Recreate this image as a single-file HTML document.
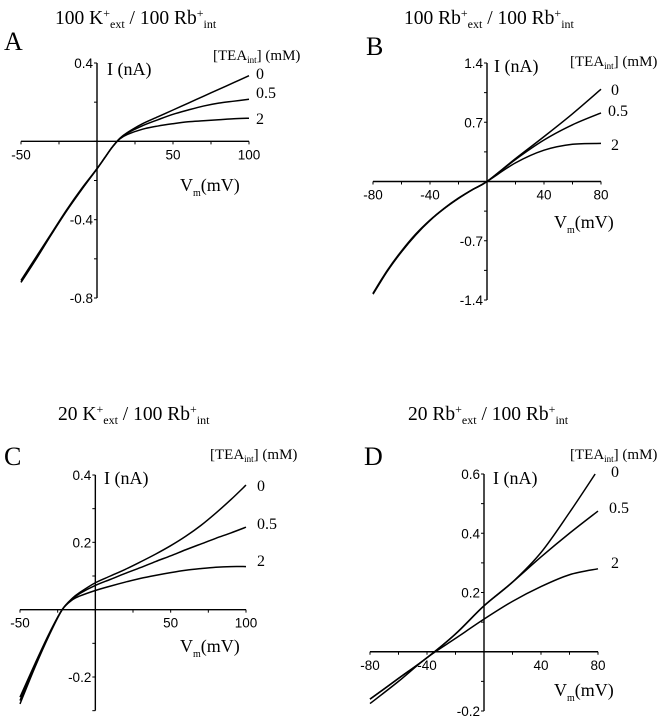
<!DOCTYPE html>
<html><head><meta charset="utf-8"><style>
body{margin:0;background:#fff}
svg{display:block}
.t{font-family:"Liberation Serif",serif;fill:#000}
.k{font-family:"Liberation Sans",sans-serif;font-size:13.5px;fill:#000}
</style></head><body>
<svg id="fig" width="659" height="719" viewBox="0 0 659 719"></svg>
<script>
// Panel A data
const aV=[-50,-40,-30,-20,-10,0,5,10,15,20,30,40,50,60,70,80,90,100];
const aI0=[-0.72,-0.6,-0.475,-0.355,-0.245,-0.14,-0.085,-0.03,0.015,0.045,0.09,0.125,0.16,0.195,0.23,0.265,0.30,0.335];
const aI05=[-0.72,-0.6,-0.475,-0.355,-0.245,-0.14,-0.085,-0.03,0.015,0.042,0.08,0.11,0.138,0.16,0.18,0.195,0.205,0.215];
const aI2=[-0.71,-0.59,-0.47,-0.35,-0.24,-0.14,-0.085,-0.03,0.012,0.035,0.062,0.078,0.09,0.1,0.105,0.11,0.115,0.118];
// Panel B data
const bV=[-80,-70,-60,-50,-40,-30,-20,-10,0,20,40,60,80];
const bI0=[-1.33,-1.06,-0.83,-0.63,-0.46,-0.32,-0.2,-0.095,0,0.27,0.53,0.8,1.09];
const bI05=[-1.33,-1.06,-0.83,-0.63,-0.46,-0.32,-0.2,-0.095,0,0.26,0.49,0.67,0.81];
const bI2=[-1.32,-1.05,-0.82,-0.62,-0.455,-0.315,-0.195,-0.093,0,0.22,0.37,0.44,0.45];
// Panel C data
const cV=[-50,-40,-30,-22,-15,-10,0,10,20,30,40,50,60,70,80,90,100];
const cI0=[-0.28,-0.17,-0.07,0,0.035,0.052,0.08,0.1,0.12,0.142,0.165,0.19,0.218,0.25,0.287,0.327,0.37];
const cI05=[-0.27,-0.165,-0.068,0,0.033,0.049,0.072,0.09,0.108,0.125,0.143,0.16,0.178,0.195,0.212,0.228,0.245];
const cI2=[-0.26,-0.16,-0.065,0,0.03,0.041,0.057,0.07,0.082,0.093,0.102,0.11,0.117,0.122,0.126,0.128,0.128];
// Panel D data
const dV0=[-80,-60,-40,-20,0,20,40,60,78];
const dI0=[-0.16,-0.09,-0.02,0.06,0.155,0.235,0.335,0.47,0.6];
const dV=[-80,-60,-40,-20,0,20,40,60,80];
const dI05=[-0.16,-0.09,-0.02,0.06,0.155,0.235,0.32,0.40,0.475];
const dI2=[-0.175,-0.1,-0.02,0.045,0.11,0.17,0.22,0.26,0.28];
const aXTicks=[-50,50,100], bXTicks=[-80,-40,40,80], cXTicks=[-50,50,100], dXTicks=[-80,-40,40,80];
const aYTicks=["0.4","-0.4","-0.8"], bYTicks=["1.4","0.7","-0.7","-1.4"], cYTicks=["0.4","0.2","-0.2"], dYTicks=["0.6","0.4","0.2","-0.2"];

const NS="http://www.w3.org/2000/svg";
const svg=document.getElementById('fig');
function mk(tag,attrs,parent){const e=document.createElementNS(NS,tag);for(const k in attrs)e.setAttribute(k,attrs[k]);(parent||svg).appendChild(e);return e;}

const panels=[
 {id:'a',x0:-50,x1:100,px0:21,px1:249,y0:-0.8,y1:0.4,py0:298,py1:63,xMinor:25,yMinor:0.2,yMax:0.4,yMin:-0.8,
  series:[[aV,aI0,'0'],[aV,aI05,'0.5'],[aV,aI2,'2']],xt:aXTicks,yt:aYTicks,
  title:['100 K','ext','100 Rb','int'],tx:55,ty:24,L:'A',lx:4,ly:50,lab:[[256,79],[256,98],[256,124]],leg:[213,60],ix:107,iy:75,vx:180,vy:191},
 {id:'b',x0:-80,x1:80,px0:373,px1:601,y0:-1.4,y1:1.4,py0:300,py1:63,xMinor:20,yMinor:0.35,yMax:1.4,yMin:-1.4,
  series:[[bV,bI0,'0'],[bV,bI05,'0.5'],[bV,bI2,'2']],xt:bXTicks,yt:bYTicks,
  title:['100 Rb','ext','100 Rb','int'],tx:404,ty:24,L:'B',lx:366,ly:55,lab:[[611,95],[608,116],[611,150]],leg:[570,66],ix:494,iy:72,vx:554,vy:228},
 {id:'c',x0:-50,x1:100,px0:20,px1:246,y0:-0.2,y1:0.4,py0:677,py1:475,xMinor:25,yMinor:0.1,yMax:0.4,yMin:-0.3,
  series:[[cV,cI0,'0'],[cV,cI05,'0.5'],[cV,cI2,'2']],xt:cXTicks,yt:cYTicks,
  title:['20 K','ext','100 Rb','int'],tx:58,ty:420,L:'C',lx:4,ly:465,lab:[[257,491],[257,529],[257,566]],leg:[210,459],ix:104,iy:484,vx:180,vy:652},
 {id:'d',x0:-80,x1:80,px0:370,px1:598,y0:-0.2,y1:0.6,py0:711,py1:474,xMinor:20,yMinor:0.1,yMax:0.6,yMin:-0.2,
  series:[[dV0,dI0,'0'],[dV,dI05,'0.5'],[dV,dI2,'2']],xt:dXTicks,yt:dYTicks,
  title:['20 Rb','ext','100 Rb','int'],tx:408,ty:420,L:'D',lx:364,ly:465,lab:[[611,477],[609,513],[611,568]],leg:[570,459],ix:493,iy:484,vx:554,vy:696}
];

function curve(pts){
  let d='M'+pts[0][0]+','+pts[0][1];
  for(let i=0;i<pts.length-1;i++){
    const p0=pts[i-1]||pts[i],p1=pts[i],p2=pts[i+1],p3=pts[i+2]||p2;
    const c1=[p1[0]+(p2[0]-p0[0])/6,p1[1]+(p2[1]-p0[1])/6];
    const c2=[p2[0]-(p3[0]-p1[0])/6,p2[1]-(p3[1]-p1[1])/6];
    d+=' C'+c1[0].toFixed(2)+','+c1[1].toFixed(2)+' '+c2[0].toFixed(2)+','+c2[1].toFixed(2)+' '+p2[0].toFixed(2)+','+p2[1].toFixed(2);
  }
  return d;
}

panels.forEach(p=>{
  const X=v=>p.px0+(v-p.x0)/(p.x1-p.x0)*(p.px1-p.px0);
  const Y=v=>p.py0+(v-p.y0)/(p.y1-p.y0)*(p.py1-p.py0);
  const g=mk('g',{});
  
  
  const ox=X(0), oy=Y(0);
  const xa=mk('line',{x1:p.px0,y1:oy,x2:p.px1,y2:oy,stroke:'#000','stroke-width':1.4},g);
  
  
  const ya=mk('line',{x1:ox,y1:Y(p.yMax),x2:ox,y2:Y(p.yMin),stroke:'#000','stroke-width':1.4},g);
  
  
  for(let v=p.x0;v<=p.x1+1e-6;v+=p.xMinor){mk('line',{x1:X(v),y1:oy,x2:X(v),y2:oy+3,stroke:'#000','stroke-width':1},g);}
  for(let v=p.yMin;v<=p.yMax+1e-6;v+=p.yMinor){mk('line',{x1:ox,y1:Y(v),x2:ox-3,y2:Y(v),stroke:'#000','stroke-width':1},g);}
  p.xt.forEach(v=>{const t=mk('text',{x:X(v),y:oy+18,'text-anchor':'middle',class:'k'},g);t.textContent=v;
    
    });
  p.yt.forEach(s=>{const t=mk('text',{x:ox-4,y:Y(parseFloat(s))+5,'text-anchor':'end',class:'k'},g);t.textContent=s;
    
    });
  p.series.forEach((s,i)=>{
    const pts=s[0].map((v,j)=>[X(v),Y(s[1][j])]);
    const path=mk('path',{d:curve(pts),fill:'none',stroke:'#000','stroke-width':1.5},g);
    
    
    const l=mk('text',{x:p.lab[i][0],y:p.lab[i][1],class:'t','font-size':16},g);l.textContent=s[2];
    
    
  });
  const ti=mk('text',{x:p.tx,y:p.ty,class:'t','font-size':19.5},g);
  ti.innerHTML=p.title[0]+'<tspan dy="-7" font-size="12">+</tspan><tspan dy="11" font-size="12">ext</tspan><tspan dy="-4"> / '+p.title[2]+'</tspan><tspan dy="-7" font-size="12">+</tspan><tspan dy="11" font-size="12">int</tspan>';
  
  
  const L=mk('text',{x:p.lx,y:p.ly,class:'t','font-size':26},g);L.textContent=p.L;
  
  
  const lg=mk('text',{x:p.leg[0],y:p.leg[1],class:'t','font-size':15},g);
  lg.innerHTML='[TEA<tspan dy="3" font-size="9">int</tspan><tspan dy="-3">] (mM)</tspan>';
  
  
  const it=mk('text',{x:p.ix,y:p.iy,class:'t','font-size':18},g);it.textContent='I (nA)';
  
  
  const vt=mk('text',{x:p.vx,y:p.vy,class:'t','font-size':18},g);
  vt.innerHTML='V<tspan dy="5" font-size="10">m</tspan><tspan dy="-5">(mV)</tspan>';
  
  
});
</script>
</body></html>
